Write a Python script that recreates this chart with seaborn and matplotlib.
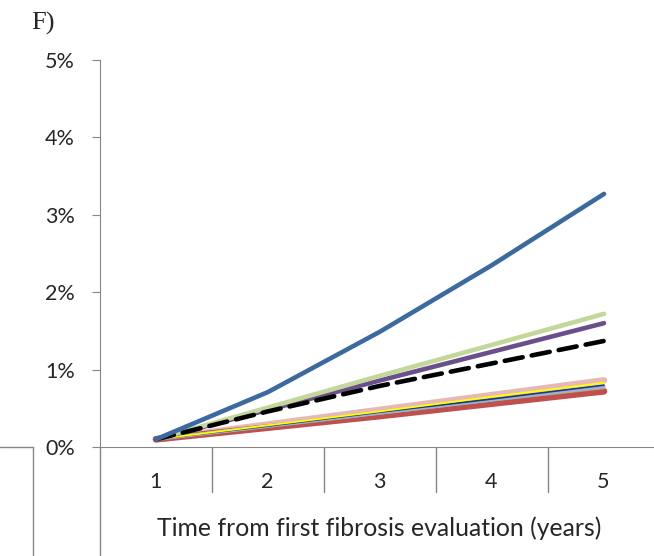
import matplotlib
matplotlib.use("Agg")
import matplotlib.pyplot as plt
import seaborn as sns
import pandas as pd
from matplotlib.lines import Line2D

years = [1, 2, 3, 4, 5]
s_blue = [0.10, 0.71, 1.49, 2.35, 3.27]
s_green = [0.10, 0.51, 0.92, 1.32, 1.72]
s_purple = [0.10, 0.48, 0.86, 1.23, 1.60]
s_dashed = [0.10, 0.46, 0.79, 1.08, 1.37]
s_pink = [0.10, 0.29, 0.48, 0.67, 0.86]
s_yellow = [0.10, 0.28, 0.46, 0.65, 0.83]
s_navy = [0.10, 0.27, 0.45, 0.62, 0.80]
s_lightblue = [0.10, 0.27, 0.44, 0.61, 0.78]
s_orange = [0.10, 0.26, 0.43, 0.60, 0.76]
s_red = [0.10, 0.25, 0.40, 0.56, 0.72]
y_ticks = [0, 1, 2, 3, 4, 5]
y_labels = ["0%", "1%", "2%", "3%", "4%", "5%"]

sns.set_style("white")
plt.rcParams["font.family"] = ["Lato", "DejaVu Sans"]

fig = plt.figure(figsize=(6.54, 5.56), dpi=100)
W, H = 654, 556
ax = fig.add_axes([100 / W, 1 - 447 / H, 560 / W, (447 - 60) / H])

series = [
    (s_pink, "#E6B9B8", 4.8, "-"),
    (s_red, "#C0504D", 4.8, "-"),
    (s_orange, "#D99A5E", 1.5, "-"),
    (s_lightblue, "#95B3D7", 2.5, "-"),
    (s_navy, "#1F3A6E", 1.2, "-"),
    (s_yellow, "#FFFF00", 1.3, "-"),
    (s_purple, "#6A4F8B", 3.3, "-"),
    (s_green, "#C4D79B", 3.3, "-"),
    (s_dashed, "#000000", 3.3, "--"),
    (s_blue, "#3D6A9E", 3.3, "-"),
]
for vals, col, lw, ls in series:
    df = pd.DataFrame({"x": years, "y": vals})
    sns.lineplot(data=df, x="x", y="y", ax=ax, color=col, linewidth=lw,
                 linestyle=ls, solid_capstyle="round", dash_capstyle="round")
ax.lines[-2].set_dashes([4, 2])

ax.set_xlim(0.5, 5.5)
ax.set_ylim(0, 5)
ax.set_yticks(y_ticks)
ax.set_yticklabels(y_labels, fontsize=15.5)
ax.set_xticks([])
ax.set_xlabel("")
ax.set_ylabel("")
for side in ["top", "right"]:
    ax.spines[side].set_visible(False)
ax.spines["left"].set_color("#868686")
ax.spines["bottom"].set_color("#868686")
ax.tick_params(axis="y", length=6, color="#868686", direction="out", pad=12, left=True)

gray = "#868686"
def fx(p):
    return p / W
def fy(p):
    return 1 - p / H

# category labels and separators
cat_x = [155, 267, 379, 491, 603]
for i, yr in enumerate(years):
    fig.text(fx(cat_x[i]), fy(482), str(yr), ha="center", va="center", fontsize=15.5)
for sx in [212, 324, 436, 548]:
    fig.add_artist(Line2D([fx(sx), fx(sx)], [fy(447), fy(492)], color=gray, lw=1))
# y axis extension and left box
fig.add_artist(Line2D([fx(100), fx(100)], [fy(447), fy(556)], color=gray, lw=1))
fig.add_artist(Line2D([fx(0), fx(33)], [fy(447), fy(447)], color=gray, lw=1))
fig.add_artist(Line2D([fx(33), fx(33)], [fy(447), fy(556)], color=gray, lw=1))

fig.text(fx(379), fy(528), "Time from first fibrosis evaluation (years)",
         ha="center", va="center", fontsize=17.8)
fig.text(fx(31), fy(23), "F)", ha="left", va="center", fontsize=19,
         family=["Liberation Serif"])

fig.savefig("out.png", dpi=100)
